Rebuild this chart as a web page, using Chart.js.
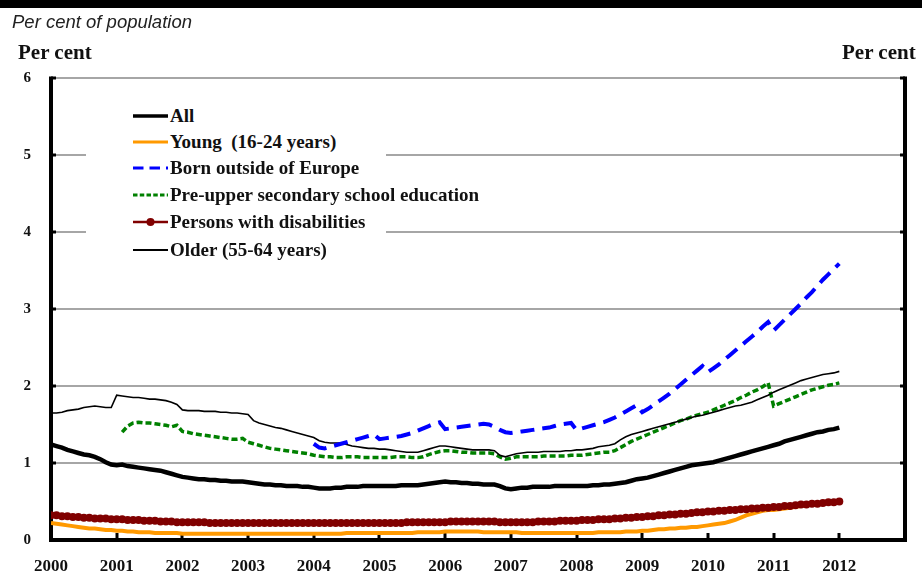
<!DOCTYPE html>
<html>
<head>
<meta charset="utf-8">
<script src="https://cdn.jsdelivr.net/npm/chart.js@4.4.0/dist/chart.umd.min.js"></script>
<style>
  body { margin: 0; background: #fff; }
  #page { position: relative; width: 922px; height: 575px; overflow: hidden; }
  #chart { position: absolute; left: 0; top: 0; }
  .topbar { position: absolute; left: 0; top: 0; width: 922px; height: 8px; background: #000; }
  .sub { position: absolute; left: 12px; top: 13px; font: italic 18.5px "Liberation Sans", Arial, sans-serif; color: #222; line-height: 1; }
  .unit { position: absolute; top: 42px; font: bold 21px "Liberation Serif", serif; color: #111; line-height: 1; }
  #legend { position: absolute; left: 86px; top: 100px; width: 300px; height: 164px; background: #fff; }
  .row { position: absolute; left: 0; height: 26px; display: flex; align-items: center; white-space: pre;
         font: bold 19px "Liberation Serif", serif; color: #111; }
  .row svg { margin-left: 47px; margin-right: 2px; }
</style>
</head>
<body>
<div id="page">
  <canvas id="chart" width="922" height="575"></canvas>
  <div class="topbar"></div>
  <div class="sub">Per cent of population</div>
  <div class="unit" style="left:18px">Per cent</div>
  <div class="unit" style="left:842px">Per cent</div>
  <div id="legend"></div>
</div>
<script>
// monthly data, Jan 2000 - Jan 2012
const tickYears = [2000, 2001, 2002, 2003, 2004, 2005, 2006, 2007, 2008, 2009, 2010, 2011, 2012];
const seriesNames = ["All", "Young  (16-24 years)", "Born outside of Europe",
  "Pre-upper secondary school education", "Persons with disabilities", "Older (55-64 years)"];

const allStart = 2000;
const allValues = [
  1.24,1.22,1.20,1.17,1.15,1.13,1.11,1.10,1.08,1.05,1.01,0.98,
  0.97,0.98,0.96,0.95,0.94,0.93,0.92,0.91,0.90,0.88,0.86,0.84,
  0.82,0.81,0.80,0.79,0.79,0.78,0.78,0.77,0.77,0.76,0.76,0.76,
  0.75,0.74,0.73,0.72,0.72,0.71,0.71,0.70,0.70,0.70,0.69,0.69,
  0.68,0.67,0.67,0.67,0.68,0.68,0.69,0.69,0.69,0.70,0.70,0.70,
  0.70,0.70,0.70,0.70,0.71,0.71,0.71,0.71,0.72,0.73,0.74,0.75,
  0.76,0.75,0.75,0.74,0.74,0.73,0.73,0.72,0.72,0.72,0.70,0.67,
  0.66,0.67,0.68,0.68,0.69,0.69,0.69,0.69,0.70,0.70,0.70,0.70,
  0.70,0.70,0.70,0.71,0.71,0.72,0.72,0.73,0.74,0.75,0.77,0.79,
  0.80,0.81,0.83,0.85,0.87,0.89,0.91,0.93,0.95,0.97,0.98,0.99,
  1.00,1.01,1.03,1.05,1.07,1.09,1.11,1.13,1.15,1.17,1.19,1.21,
  1.23,1.25,1.28,1.30,1.32,1.34,1.36,1.38,1.40,1.41,1.43,1.44,
  1.46
];

const youngStart = 2000;
const youngValues = [
  0.22,0.21,0.20,0.19,0.18,0.17,0.16,0.15,0.15,0.14,0.13,0.13,
  0.12,0.12,0.11,0.11,0.10,0.10,0.10,0.09,0.09,0.09,0.09,0.09,
  0.08,0.08,0.08,0.08,0.08,0.08,0.08,0.08,0.08,0.08,0.08,0.08,
  0.08,0.08,0.08,0.08,0.08,0.08,0.08,0.08,0.08,0.08,0.08,0.08,
  0.08,0.08,0.08,0.08,0.08,0.08,0.09,0.09,0.09,0.09,0.09,0.09,
  0.09,0.09,0.09,0.09,0.09,0.09,0.09,0.10,0.10,0.10,0.10,0.10,
  0.11,0.11,0.11,0.11,0.11,0.11,0.11,0.10,0.10,0.10,0.10,0.10,
  0.10,0.10,0.09,0.09,0.09,0.09,0.09,0.09,0.09,0.09,0.09,0.09,
  0.09,0.09,0.09,0.09,0.10,0.10,0.10,0.10,0.10,0.11,0.11,0.11,
  0.12,0.12,0.13,0.14,0.14,0.15,0.15,0.16,0.16,0.17,0.17,0.18,
  0.19,0.20,0.21,0.22,0.24,0.26,0.29,0.32,0.34,0.36,0.38,0.39,
  0.39,0.40,0.41,0.42,0.43,0.44,0.45,0.46,0.47,0.48,0.49,0.49,
  0.50
];

const bornStart = 2004;
const bornValues = [
  1.25,1.20,1.19,1.21,1.23,1.25,1.27,1.29,1.31,1.33,1.35,1.37,
  1.31,1.32,1.33,1.34,1.35,1.37,1.39,1.42,1.45,1.48,1.51,1.53,
  1.44,1.45,1.46,1.47,1.48,1.49,1.50,1.51,1.50,1.47,1.43,1.40,
  1.39,1.40,1.41,1.42,1.43,1.44,1.45,1.46,1.48,1.50,1.51,1.52,
  1.43,1.45,1.47,1.49,1.51,1.53,1.56,1.59,1.63,1.67,1.71,1.75,
  1.66,1.70,1.75,1.80,1.85,1.90,1.96,2.02,2.08,2.14,2.20,2.26,
  2.18,2.23,2.28,2.34,2.40,2.46,2.52,2.58,2.64,2.70,2.77,2.83,
  2.72,2.79,2.86,2.93,3.00,3.07,3.15,3.22,3.30,3.38,3.45,3.52,
  3.59
];

const preStart = 2001 + 1 / 12;
const preValues = [
       1.40,1.48,1.52,1.53,1.52,1.52,1.51,1.50,1.49,1.47,1.49,
  1.41,1.40,1.38,1.37,1.36,1.35,1.34,1.33,1.32,1.31,1.31,1.32,
  1.27,1.25,1.23,1.21,1.19,1.18,1.17,1.16,1.15,1.14,1.13,1.12,
  1.10,1.09,1.08,1.08,1.07,1.07,1.08,1.08,1.08,1.07,1.07,1.07,
  1.07,1.07,1.07,1.08,1.08,1.08,1.07,1.07,1.08,1.11,1.13,1.15,
  1.16,1.16,1.15,1.14,1.14,1.13,1.13,1.13,1.13,1.12,1.08,1.05,
  1.06,1.08,1.08,1.08,1.08,1.08,1.09,1.09,1.09,1.09,1.09,1.10,
  1.10,1.10,1.11,1.12,1.13,1.14,1.14,1.16,1.20,1.24,1.28,1.31,
  1.34,1.37,1.40,1.43,1.46,1.49,1.52,1.55,1.57,1.60,1.62,1.64,
  1.66,1.69,1.72,1.75,1.78,1.81,1.85,1.88,1.92,1.95,1.99,2.04,
  1.74,1.77,1.80,1.83,1.86,1.89,1.92,1.95,1.97,1.99,2.01,2.02,
  2.04
];

const disStart = 2000;
const disValues = [
  0.32,0.32,0.31,0.31,0.30,0.30,0.29,0.29,0.28,0.28,0.28,0.27,
  0.27,0.27,0.26,0.26,0.26,0.25,0.25,0.25,0.24,0.24,0.24,0.23,
  0.23,0.23,0.23,0.23,0.23,0.22,0.22,0.22,0.22,0.22,0.22,0.22,
  0.22,0.22,0.22,0.22,0.22,0.22,0.22,0.22,0.22,0.22,0.22,0.22,
  0.22,0.22,0.22,0.22,0.22,0.22,0.22,0.22,0.22,0.22,0.22,0.22,
  0.22,0.22,0.22,0.22,0.22,0.23,0.23,0.23,0.23,0.23,0.23,0.23,
  0.23,0.24,0.24,0.24,0.24,0.24,0.24,0.24,0.24,0.24,0.23,0.23,
  0.23,0.23,0.23,0.23,0.23,0.24,0.24,0.24,0.24,0.25,0.25,0.25,
  0.25,0.26,0.26,0.26,0.27,0.27,0.27,0.28,0.28,0.29,0.29,0.30,
  0.30,0.31,0.31,0.32,0.32,0.33,0.33,0.34,0.34,0.35,0.36,0.36,
  0.37,0.37,0.38,0.38,0.39,0.39,0.40,0.40,0.41,0.41,0.42,0.42,
  0.43,0.43,0.44,0.44,0.45,0.46,0.46,0.47,0.47,0.48,0.49,0.49,
  0.50
];

const olderStart = 2000;
const olderValues = [
  1.65,1.65,1.66,1.68,1.69,1.70,1.72,1.73,1.74,1.73,1.72,1.72,
  1.88,1.87,1.86,1.85,1.85,1.84,1.83,1.83,1.82,1.81,1.79,1.76,
  1.69,1.68,1.68,1.68,1.67,1.67,1.67,1.66,1.66,1.65,1.65,1.64,
  1.63,1.55,1.52,1.50,1.48,1.46,1.45,1.43,1.41,1.39,1.37,1.35,
  1.33,1.29,1.27,1.26,1.26,1.26,1.24,1.22,1.21,1.20,1.19,1.19,
  1.18,1.18,1.17,1.16,1.15,1.14,1.14,1.14,1.16,1.18,1.20,1.22,
  1.22,1.21,1.20,1.19,1.18,1.17,1.17,1.17,1.17,1.16,1.10,1.08,
  1.10,1.12,1.13,1.14,1.14,1.14,1.15,1.15,1.15,1.15,1.16,1.16,
  1.17,1.17,1.18,1.19,1.21,1.22,1.23,1.25,1.30,1.34,1.37,1.39,
  1.41,1.43,1.45,1.47,1.49,1.51,1.53,1.55,1.57,1.59,1.61,1.62,
  1.64,1.66,1.68,1.70,1.72,1.74,1.75,1.77,1.79,1.82,1.85,1.88,
  1.92,1.95,1.98,2.01,2.04,2.07,2.09,2.11,2.13,2.15,2.16,2.17,
  2.19
];

// month i after the start -> decimal year on the x scale
function pts(start, values) {
  return values.map((v, i) => ({ x: start + i / 12, y: v }));
}

const serif = '"Liberation Serif", "Times New Roman", serif';

const styles = [
  { color: "#000000", width: 4.5, dash: [] },
  { color: "#ff9900", width: 4, dash: [] },
  { color: "#0000ff", width: 4, dash: [14, 8] },
  { color: "#008000", width: 3.5, dash: [6, 3] },
  { color: "#800000", width: 3, dash: [], dot: 4 },
  { color: "#000000", width: 1.6, dash: [] }
];

const datasets = [
  pts(allStart, allValues),
  pts(youngStart, youngValues),
  pts(bornStart, bornValues),
  pts(preStart, preValues),
  pts(disStart, disValues),
  pts(olderStart, olderValues)
].map((d, i) => ({
  label: seriesNames[i],
  data: d,
  borderColor: styles[i].color,
  backgroundColor: styles[i].color,
  borderWidth: styles[i].width,
  borderDash: styles[i].dash,
  pointRadius: styles[i].dot || 0,
  pointBorderWidth: 0,
  pointBackgroundColor: styles[i].color,
  fill: false,
  tension: 0,
  order: [0, 3, 1, 2, 2, 1][i]
}));

// axes drawn like the original: thick black frame, short inner ticks
const frame = {
  id: "frame",
  beforeDatasetsDraw(chart) {
    const { ctx, chartArea: a, scales } = chart;
    ctx.save();
    ctx.strokeStyle = "#000";
    ctx.lineWidth = 3;
    for (const yr of tickYears) {
      if (yr === 2000) continue;
      const px = Math.round(scales.x.getPixelForValue(yr));
      ctx.beginPath(); ctx.moveTo(px, a.bottom); ctx.lineTo(px, a.bottom - 7); ctx.stroke();
    }
    for (let v = 1; v <= 6; v++) {
      const py = Math.round(scales.y.getPixelForValue(v));
      ctx.beginPath(); ctx.moveTo(a.left, py); ctx.lineTo(a.left + 5, py); ctx.stroke();
      ctx.beginPath(); ctx.moveTo(a.right - 5, py); ctx.lineTo(a.right, py); ctx.stroke();
    }
    ctx.lineWidth = 4;
    ctx.beginPath();
    ctx.moveTo(a.left, a.top - 1.5);
    ctx.lineTo(a.left, a.bottom);
    ctx.lineTo(a.right, a.bottom);
    ctx.lineTo(a.right, a.top - 1.5);
    ctx.stroke();
    ctx.restore();
  }
};

const ctx = document.getElementById("chart").getContext("2d");
const myChart = new Chart(ctx, {
  type: "line",
  data: { datasets: datasets },
  options: {
    responsive: false,
    animation: false,
    layout: { padding: { top: 78, right: 17, left: 0, bottom: 0 } },
    plugins: { legend: { display: false }, tooltip: { enabled: false } },
    scales: {
      x: {
        type: "linear",
        min: 2000,
        max: 2013,
        ticks: {
          stepSize: 1,
          autoSkip: false,
          maxRotation: 0,
          padding: 16,
          color: "#111",
          font: { family: serif, size: 17, weight: "bold" },
          callback: v => (tickYears.includes(v) ? String(v) : "")
        },
        grid: { display: false, drawTicks: false },
        border: { display: false },
        afterFit(s) { s.height = 35; }
      },
      y: {
        min: 0,
        max: 6,
        ticks: {
          stepSize: 1,
          padding: 20,
          color: "#111",
          font: { family: serif, size: 15, weight: "bold" }
        },
        grid: {
          drawTicks: false,
          lineWidth: 2,
          color: c => (c.tick && c.tick.value === 0 ? "rgba(0,0,0,0)" : "#a6a6a6")
        },
        border: { display: false },
        afterFit(s) { s.width = 51; }
      }
    }
  },
  plugins: [frame]
});

// legend box over the plot, as in the original
const legend = document.getElementById("legend");
const rowCenters = [16, 42, 68, 95, 122, 150];
seriesNames.forEach((name, i) => {
  const st = styles[i];
  const row = document.createElement("div");
  row.className = "row";
  row.style.top = (rowCenters[i] - 13) + "px";
  let svg = '<svg width="35" height="12"><line x1="0" y1="6" x2="35" y2="6" stroke="' + st.color +
    '" stroke-width="' + Math.max(st.width * 0.8, 2) + '"' +
    (st.dash.length ? ' stroke-dasharray="' + st.dash.map(d => d * 0.75).join(",") + '"' : "") + '/>';
  if (st.dot) svg += '<circle cx="17.5" cy="6" r="' + st.dot + '" fill="' + st.color + '"/>';
  svg += "</svg>";
  row.innerHTML = svg + "<span>" + name + "</span>";
  legend.appendChild(row);
});
</script>
</body>
</html>
